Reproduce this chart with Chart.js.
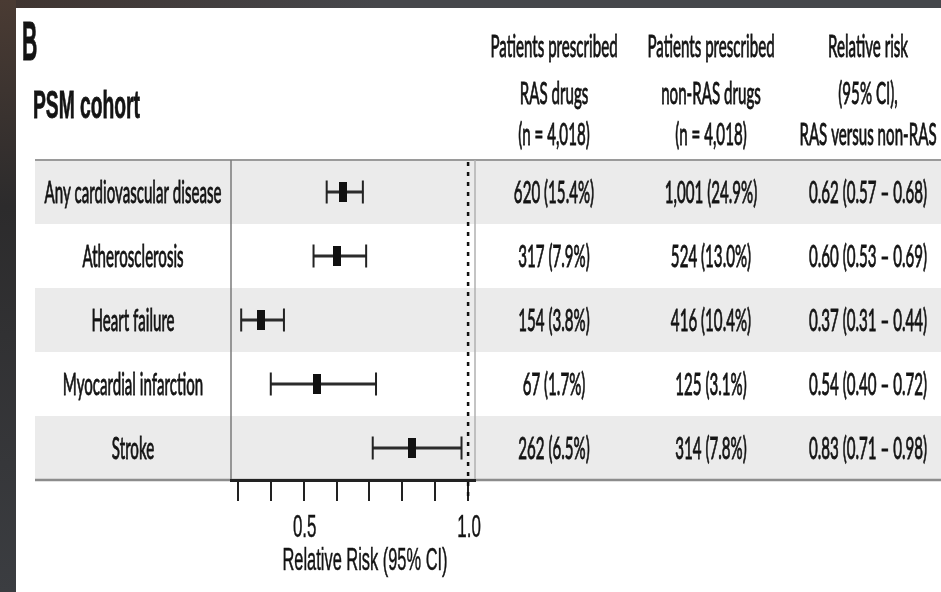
<!DOCTYPE html>
<html>
<head>
<meta charset="utf-8">
<title>PSM cohort - relative risk</title>
<script src="https://cdn.jsdelivr.net/npm/chart.js@4.4.1/dist/chart.umd.min.js"></script>
<style>
  html, body { margin: 0; padding: 0; background: #2e2e30; }
  canvas { display: block; }
</style>
</head>
<body>
<canvas id="forestChart" width="941" height="592"></canvas>
<script>
// values
const outcomes = ['Any cardiovascular disease', 'Atherosclerosis', 'Heart failure', 'Myocardial infarction', 'Stroke'];
const rrEstimate = [0.62, 0.60, 0.37, 0.54, 0.83];
const rrLower = [0.57, 0.53, 0.31, 0.40, 0.71];
const rrUpper = [0.68, 0.69, 0.44, 0.72, 0.98];
const rasCounts = ['620 (15.4%)', '317 (7.9%)', '154 (3.8%)', '67 (1.7%)', '262 (6.5%)'];
const nonRasCounts = ['1,001 (24.9%)', '524 (13.0%)', '416 (10.4%)', '125 (3.1%)', '314 (7.8%)'];

const tickValues = [0.3, 0.4, 0.5, 0.6, 0.7, 0.8, 0.9, 1.0];
const tickLabels = ['', '', '0.5', '', '', '', '', '1.0'];
const refValue = 1.0;

const headerRas = ['Patients prescribed', 'RAS drugs', '(n = 4,018)'];
const headerNonRas = ['Patients prescribed', 'non-RAS drugs', '(n = 4,018)'];
const headerRR = ['Relative risk', '(95% CI),', 'RAS versus non-RAS'];

const rrText = rrEstimate.map((e, i) =>
    `${e.toFixed(2)} (${rrLower[i].toFixed(2)} – ${rrUpper[i].toFixed(2)})`);

// fonts: Lato stands in for the narrow Calibri text, Liberation Sans for the Helvetica bits
const CAL = '31px Lato';
const HELV = '32px "Liberation Sans"';
const HELV_TITLE = '31px "Liberation Sans"';
const HELV_BOLD = 'bold 39px "Liberation Sans"';
const HELV_BIG = 'bold 56px "Liberation Sans"';
const TEXT = '#141414';

const colX = [554, 711, 868];
const headerBase = [57, 104, 145];

// text in the figure is squashed sideways, so draw it scaled on x
function squeeze(ctx, text, x, y, font, sx, align, weight) {
    ctx.save();
    ctx.font = font;
    ctx.fillStyle = TEXT;
    ctx.strokeStyle = TEXT;
    ctx.lineWidth = weight || 0.9;
    ctx.textAlign = align || 'center';
    ctx.textBaseline = 'alphabetic';
    ctx.translate(x, y);
    ctx.scale(sx, 1);
    ctx.fillText(text, 0, 0);
    ctx.strokeText(text, 0, 0);
    ctx.restore();
}

function fitScale(ctx, font, text, width) {
    ctx.save();
    ctx.font = font;
    const w = ctx.measureText(text).width;
    ctx.restore();
    return width / w;
}

// the point estimate is a tall black box
const boxImg = document.createElement('canvas');
boxImg.width = 8;
boxImg.height = 20;
const bctx = boxImg.getContext('2d');
bctx.fillStyle = '#111';
bctx.fillRect(0, 0, 8, 20);

const tablePlugin = {
    id: 'forestTable',
    beforeDraw(chart) {
        const { ctx, chartArea, scales: { y } } = chart;
        const W = chart.width, H = chart.height;
        ctx.save();
        // dark frame around the figure
        const side = ctx.createLinearGradient(0, 0, 0, H);
        side.addColorStop(0, '#4a3b33');
        side.addColorStop(0.35, '#2c2b2c');
        side.addColorStop(1, '#3b3d41');
        ctx.fillStyle = side;
        ctx.fillRect(0, 0, 16, H);
        const top = ctx.createLinearGradient(0, 0, W, 0);
        top.addColorStop(0, '#3f3430');
        top.addColorStop(0.4, '#46474b');
        top.addColorStop(1, '#45474b');
        ctx.fillStyle = top;
        ctx.fillRect(16, 0, W - 16, 8);
        ctx.fillStyle = '#ffffff';
        ctx.fillRect(16, 8, W - 16, H - 8);

        // alternating row bands
        const step = Math.abs(y.getPixelForValue(1) - y.getPixelForValue(0));
        outcomes.forEach((o, i) => {
            if (i % 2 === 0) {
                const yc = y.getPixelForValue(i);
                ctx.fillStyle = '#ebebeb';
                ctx.fillRect(35, yc - step / 2, W - 35, step);
            }
        });

        // table rules
        ctx.strokeStyle = '#9a9a9a';
        ctx.lineWidth = 2;
        ctx.beginPath();
        ctx.moveTo(35, chartArea.top);
        ctx.lineTo(W, chartArea.top);
        ctx.stroke();
        ctx.strokeStyle = '#8c8c8c';
        ctx.lineWidth = 2.5;
        ctx.beginPath();
        ctx.moveTo(35, chartArea.bottom);
        ctx.lineTo(W, chartArea.bottom);
        ctx.stroke();

        ctx.lineWidth = 1.5;
        ctx.strokeStyle = '#7a7a7a';
        ctx.beginPath();
        ctx.moveTo(chartArea.left, chartArea.top);
        ctx.lineTo(chartArea.left, chartArea.bottom);
        ctx.stroke();
        ctx.strokeStyle = '#b0b0b0';
        ctx.beginPath();
        ctx.moveTo(chartArea.right, chartArea.top);
        ctx.lineTo(chartArea.right, chartArea.bottom);
        ctx.stroke();
        ctx.restore();
    },
    beforeDatasetsDraw(chart) {
        const { ctx, chartArea, scales: { x } } = chart;
        const px = x.getPixelForValue(refValue);
        ctx.save();
        ctx.strokeStyle = '#111';
        ctx.lineWidth = 2.5;
        ctx.setLineDash([4, 6]);
        ctx.beginPath();
        ctx.moveTo(px, chartArea.top + 2);
        ctx.lineTo(px, chartArea.bottom + 18);
        ctx.stroke();
        ctx.restore();
    },
    afterDraw(chart) {
        const { ctx, scales: { x, y } } = chart;
        const calSx = fitScale(ctx, CAL, 'Any cardiovascular disease', 177);
        const helvSx = fitScale(ctx, HELV_TITLE, 'Relative Risk (95% CI)', 165);
        const boldSx = fitScale(ctx, HELV_BOLD, 'PSM cohort', 107);

        squeeze(ctx, 'B', 22, 60, HELV_BIG, 0.38, 'left', 1);
        squeeze(ctx, 'PSM cohort', 33, 118, HELV_BOLD, boldSx, 'left', 0.8);

        [headerRas, headerNonRas, headerRR].forEach((lines, c) => {
            lines.forEach((t, k) => squeeze(ctx, t, colX[c], headerBase[k], CAL, calSx));
        });

        outcomes.forEach((name, i) => {
            const base = y.getPixelForValue(i) + 11;
            squeeze(ctx, name, 133, base, CAL, calSx);
            squeeze(ctx, rasCounts[i], colX[0], base, CAL, calSx);
            squeeze(ctx, nonRasCounts[i], colX[1], base, CAL, calSx);
            squeeze(ctx, rrText[i], colX[2], base, CAL, calSx);
        });

        tickValues.forEach((v, i) => {
            if (tickLabels[i]) {
                squeeze(ctx, tickLabels[i], x.getPixelForValue(v) + 1, 537, HELV, helvSx, 'center', 0.5);
            }
        });
        squeeze(ctx, 'Relative Risk (95% CI)', 365, 570, HELV_TITLE, helvSx, 'center', 0.5);
    }
};

const ctx = document.getElementById('forestChart').getContext('2d');

new Chart(ctx, {
    type: 'bar',
    data: {
        labels: outcomes,
        datasets: [
            {
                type: 'line',
                label: 'Relative risk',
                data: rrEstimate,
                indexAxis: 'y',
                showLine: false,
                pointStyle: boxImg,
                pointRadius: 10,
                order: 0
            },
            {
                type: 'line',
                label: 'Lower 95% CI',
                data: rrLower,
                indexAxis: 'y',
                showLine: false,
                pointStyle: 'line',
                pointRotation: 90,
                pointRadius: 11.5,
                pointBorderWidth: 2,
                pointBorderColor: '#222',
                order: 1
            },
            {
                type: 'line',
                label: 'Upper 95% CI',
                data: rrUpper,
                indexAxis: 'y',
                showLine: false,
                pointStyle: 'line',
                pointRotation: 90,
                pointRadius: 11.5,
                pointBorderWidth: 2,
                pointBorderColor: '#222',
                order: 1
            },
            {
                type: 'bar',
                label: '95% CI',
                data: rrLower.map((lo, i) => [lo, rrUpper[i]]),
                backgroundColor: '#2b2b2b',
                borderWidth: 0,
                barThickness: 2.5,
                order: 2
            }
        ]
    },
    options: {
        indexAxis: 'y',
        responsive: false,
        animation: false,
        devicePixelRatio: 1,
        layout: { padding: { left: 231, right: 466, top: 160, bottom: 92 } },
        plugins: {
            legend: { display: false },
            tooltip: { enabled: false }
        },
        scales: {
            x: {
                type: 'linear',
                min: 0.279,
                max: 1.021,
                afterBuildTicks: (scale) => {
                    scale.ticks = tickValues.map(v => ({ value: v }));
                },
                afterFit: (scale) => { scale.height = 20; },
                ticks: { display: false },
                grid: {
                    drawOnChartArea: false,
                    drawTicks: true,
                    tickLength: 21,
                    color: '#222',
                    lineWidth: 2
                },
                border: { display: true, color: '#222', width: 3 }
            },
            y: {
                type: 'category',
                display: false,
                offset: true,
                grid: { display: false }
            }
        }
    },
    plugins: [tablePlugin]
});
</script>
</body>
</html>
